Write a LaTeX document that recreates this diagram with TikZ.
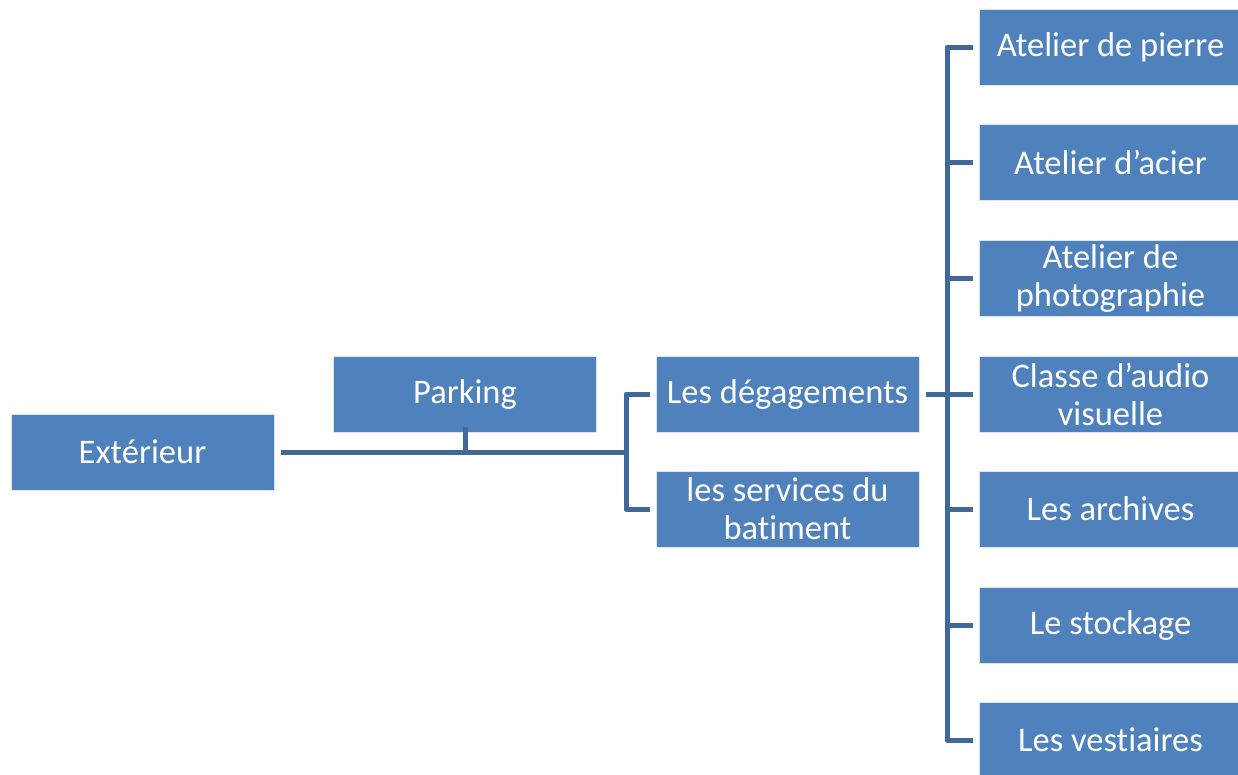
\documentclass[tikz,border=0pt]{standalone}
\usepackage{fontspec}
\setmainfont{Carlito}[Ligatures={NoCommon}]
\definecolor{boxblue}{HTML}{4F81BD}
\definecolor{lineblue}{HTML}{41689B}
\begin{document}
\begin{tikzpicture}[x=1pt,y=-1pt,
  box/.style={fill=boxblue, draw=white!80!boxblue, line width=0.6pt, minimum width=263pt, minimum height=76pt,
    inner sep=0pt, text=white, align=center, font=\fontsize{34.5}{38}\selectfont},
  conn/.style={draw=lineblue, line width=5pt, line join=round}]
\useasboundingbox (0,0) rectangle (1238,774);
\node[box] (ext)  at (142.5,452) {Extérieur};
\node[box] (park) at (465,394) {Parking};
\node[box] (deg)  at (787.5,394) {Les dégagements};
\node[box] (serv) at (787.5,509) {les services du\\batiment};
\node[box] (r1) at (1110.5,47) {Atelier de pierre};
\node[box] (r2) at (1110.5,162.5) {Atelier d’acier};
\node[box] (r3) at (1110.5,278) {Atelier de\\photographie};
\node[box] (r4) at (1110.5,394) {Classe d’audio\\visuelle};
\node[box] (r5) at (1110.5,509) {Les archives};
\node[box] (r6) at (1110.5,625) {Le stockage};
\node[box] (r7) at (1110.5,740) {Les vestiaires};
\coordinate (j1) at (626,452);
\coordinate (j2) at (947,394);
\draw[conn] ([xshift=7pt]ext.east) -- (j1);
\draw[conn] ([yshift=5pt]park.south) -- (park.south |- j1);
\draw[conn] ([xshift=-6pt]deg.west) -| (j1) |- ([xshift=-6pt]serv.west);
\draw[conn] ([xshift=7pt]deg.east) -- (j2);
\draw[conn] ([xshift=-6pt]r1.west) -| (j2 |- r1) -- (j2 |- r7) -- ([xshift=-6pt]r7.west);
\foreach \r in {r2,r3,r4,r5,r6}{
  \draw[conn] (j2 |- \r) -- ([xshift=-6pt]\r.west);
}
\end{tikzpicture}
\end{document}
